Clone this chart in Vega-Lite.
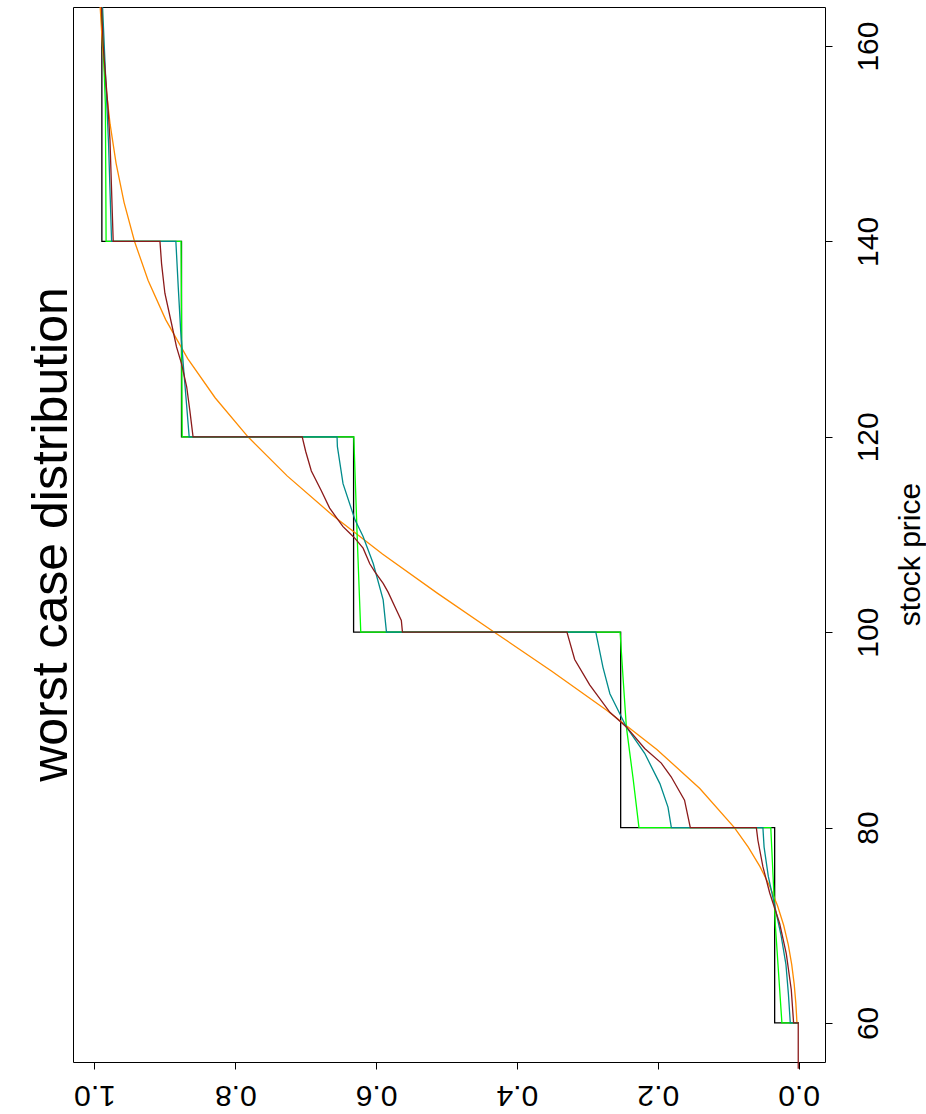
{
"$schema": "https://vega.github.io/schema/vega-lite/v6.json",
"autosize": "none",
"width": 752,
"height": 1055,
"padding": {"left": 73, "top": 7, "right": 101, "bottom": 52},
"background": "white",
"title": {"text": "worst case distribution", "orient": "left", "anchor": "middle", "angle": 270, "fontSize": 50, "font": "Liberation Sans", "fontWeight": "normal", "color": "black", "baseline": "alphabetic", "offset": -44},
"config": {"view": {"stroke": "black", "strokeWidth": 1}},
"datasets": {
"black": [{"i":0,"p":60,"v":0},{"i":1,"p":60,"v":0.034},{"i":2,"p":80,"v":0.034},{"i":3,"p":80,"v":0.2527},{"i":4,"p":100,"v":0.2527},{"i":5,"p":100,"v":0.632},{"i":6,"p":120,"v":0.632},{"i":7,"p":120,"v":0.8764},{"i":8,"p":140,"v":0.8764},{"i":9,"p":140,"v":0.9895},{"i":10,"p":164,"v":0.9895}],
"orange": [{"i":0,"p":60,"v":0.0023},{"i":1,"p":62,"v":0.0039},{"i":2,"p":64,"v":0.0063},{"i":3,"p":66,"v":0.0098},{"i":4,"p":68,"v":0.0146},{"i":5,"p":70,"v":0.0212},{"i":6,"p":72,"v":0.0299},{"i":7,"p":74,"v":0.041},{"i":8,"p":76,"v":0.0548},{"i":9,"p":78,"v":0.0715},{"i":10,"p":80,"v":0.0912},{"i":11,"p":84,"v":0.1403},{"i":12,"p":88,"v":0.2013},{"i":13,"p":92,"v":0.2726},{"i":14,"p":96,"v":0.3505},{"i":15,"p":100,"v":0.4321},{"i":16,"p":104,"v":0.5132},{"i":17,"p":108,"v":0.591},{"i":18,"p":112,"v":0.6624},{"i":19,"p":116,"v":0.7264},{"i":20,"p":120,"v":0.782},{"i":21,"p":124,"v":0.8287},{"i":22,"p":128,"v":0.8676},{"i":23,"p":132,"v":0.8989},{"i":24,"p":136,"v":0.9238},{"i":25,"p":140,"v":0.9431},{"i":26,"p":144,"v":0.958},{"i":27,"p":148,"v":0.9693},{"i":28,"p":152,"v":0.9778},{"i":29,"p":156,"v":0.984},{"i":30,"p":160,"v":0.9886},{"i":31,"p":164,"v":0.9919}],
"green": [{"i":0,"p":60,"v":0},{"i":1,"p":60,"v":0.0237},{"i":2,"p":70,"v":0.033},{"i":3,"p":80,"v":0.0395},{"i":4,"p":80,"v":0.2267},{"i":5,"p":85,"v":0.235},{"i":6,"p":90.3,"v":0.2446},{"i":7,"p":95,"v":0.249},{"i":8,"p":100,"v":0.2535},{"i":9,"p":100,"v":0.6218},{"i":10,"p":110,"v":0.627},{"i":11,"p":120,"v":0.6317},{"i":12,"p":120,"v":0.8755},{"i":13,"p":140,"v":0.877},{"i":14,"p":140,"v":0.9835},{"i":15,"p":154,"v":0.9845},{"i":16,"p":164,"v":0.9895}],
"teal": [{"i":0,"p":60,"v":0},{"i":1,"p":60,"v":0.0118},{"i":2,"p":63,"v":0.0145},{"i":3,"p":66,"v":0.018},{"i":4,"p":69,"v":0.025},{"i":5,"p":72,"v":0.034},{"i":6,"p":75,"v":0.043},{"i":7,"p":78,"v":0.049},{"i":8,"p":80,"v":0.0507},{"i":9,"p":80,"v":0.1807},{"i":10,"p":82.1,"v":0.1855},{"i":11,"p":84.5,"v":0.197},{"i":12,"p":87.6,"v":0.2186},{"i":13,"p":90.3,"v":0.2446},{"i":14,"p":93.7,"v":0.268},{"i":15,"p":96.4,"v":0.2778},{"i":16,"p":100,"v":0.288},{"i":17,"p":100,"v":0.5853},{"i":18,"p":103.3,"v":0.59},{"i":19,"p":107,"v":0.604},{"i":20,"p":109.8,"v":0.6185},{"i":21,"p":111.5,"v":0.63},{"i":22,"p":115.2,"v":0.647},{"i":23,"p":119,"v":0.655},{"i":24,"p":120,"v":0.6555},{"i":25,"p":120,"v":0.8655},{"i":26,"p":123.1,"v":0.869},{"i":27,"p":127.5,"v":0.874},{"i":28,"p":130.9,"v":0.8776},{"i":29,"p":135.3,"v":0.881},{"i":30,"p":140,"v":0.8844},{"i":31,"p":140,"v":0.9757},{"i":32,"p":150,"v":0.98},{"i":33,"p":164,"v":0.9885}],
"brown": [{"i":0,"p":55.3,"v":0.0005},{"i":1,"p":60,"v":0.0005},{"i":2,"p":60,"v":0.0071},{"i":3,"p":63.4,"v":0.0104},{"i":4,"p":67.1,"v":0.0175},{"i":5,"p":70.2,"v":0.027},{"i":6,"p":73.3,"v":0.041},{"i":7,"p":76,"v":0.0507},{"i":8,"p":78.7,"v":0.0578},{"i":9,"p":80,"v":0.06},{"i":10,"p":80,"v":0.1538},{"i":11,"p":82.8,"v":0.162},{"i":12,"p":85.2,"v":0.181},{"i":13,"p":86.6,"v":0.195},{"i":14,"p":88.1,"v":0.2186},{"i":15,"p":90.3,"v":0.2446},{"i":16,"p":91.8,"v":0.268},{"i":17,"p":94.6,"v":0.2967},{"i":18,"p":97.2,"v":0.318},{"i":19,"p":100,"v":0.329},{"i":20,"p":100,"v":0.5626},{"i":21,"p":101.2,"v":0.5642},{"i":22,"p":102.25,"v":0.571},{"i":23,"p":104.1,"v":0.583},{"i":24,"p":105,"v":0.59},{"i":25,"p":106.2,"v":0.602},{"i":26,"p":107,"v":0.609},{"i":27,"p":108.6,"v":0.6185},{"i":28,"p":109.6,"v":0.63},{"i":29,"p":110.1,"v":0.637},{"i":30,"p":110.8,"v":0.647},{"i":31,"p":111.5,"v":0.654},{"i":32,"p":112.7,"v":0.666},{"i":33,"p":114.5,"v":0.678},{"i":34,"p":116.5,"v":0.692},{"i":35,"p":118.5,"v":0.7},{"i":36,"p":120,"v":0.705},{"i":37,"p":120,"v":0.86},{"i":38,"p":122.7,"v":0.8646},{"i":39,"p":125.1,"v":0.869},{"i":40,"p":127.5,"v":0.8764},{"i":41,"p":129.2,"v":0.8835},{"i":42,"p":131.6,"v":0.8906},{"i":43,"p":134.7,"v":0.9},{"i":44,"p":137.7,"v":0.9047},{"i":45,"p":140,"v":0.907},{"i":46,"p":140,"v":0.9734},{"i":47,"p":150.4,"v":0.978},{"i":48,"p":153.4,"v":0.9805},{"i":49,"p":160,"v":0.9876},{"i":50,"p":164,"v":0.99}]
},
"encoding": {
"x": {"field": "v", "type": "quantitative", "scale": {"domain": [-0.0375, 1.0305], "reverse": true, "nice": false, "zero": false},
 "axis": {"orient": "bottom", "values": [0, 0.2, 0.4, 0.6, 0.8, 1], "format": ".1f", "labelAngle": 180, "labelFontSize": 30, "labelFont": "Liberation Sans", "labelColor": "black", "labelBaseline": "bottom", "labelAlign": "center", "labelPadding": 10, "tickSize": 7, "tickColor": "black", "tickWidth": 1, "domain": false, "grid": false, "title": null, "labelFlush": false, "labelOverlap": false}},
"y": {"field": "p", "type": "quantitative", "scale": {"domain": [56, 164], "nice": false, "zero": false},
 "axis": {"orient": "right", "values": [60, 80, 100, 120, 140, 160], "labelAngle": 270, "labelFontSize": 30, "labelFont": "Liberation Sans", "labelColor": "black", "labelBaseline": "top", "labelAlign": "center", "labelPadding": 21, "tickSize": 7, "tickColor": "black", "tickWidth": 1, "domain": false, "grid": false, "title": "stock price", "titleFont": "Liberation Sans", "titleFontSize": 30, "titleFontWeight": "normal", "titleColor": "black", "titleAngle": 270, "titleBaseline": "top", "titleAlign": "center", "titleX": 70, "titleY": 547, "labelFlush": false, "labelOverlap": false}},
"order": {"field": "i", "type": "quantitative"}
},
"layer": [
{"data": {"name": "black"}, "mark": {"type": "line", "color": "#000000", "strokeWidth": 1.3}},
{"data": {"name": "orange"}, "mark": {"type": "line", "color": "#FF8C00", "strokeWidth": 1.3}},
{"data": {"name": "green"}, "mark": {"type": "line", "color": "#00FF00", "strokeWidth": 1.3}},
{"data": {"name": "teal"}, "mark": {"type": "line", "color": "#008B8B", "strokeWidth": 1.3}},
{"data": {"name": "brown"}, "mark": {"type": "line", "color": "#8B1A1A", "strokeWidth": 1.3}}
]
}
